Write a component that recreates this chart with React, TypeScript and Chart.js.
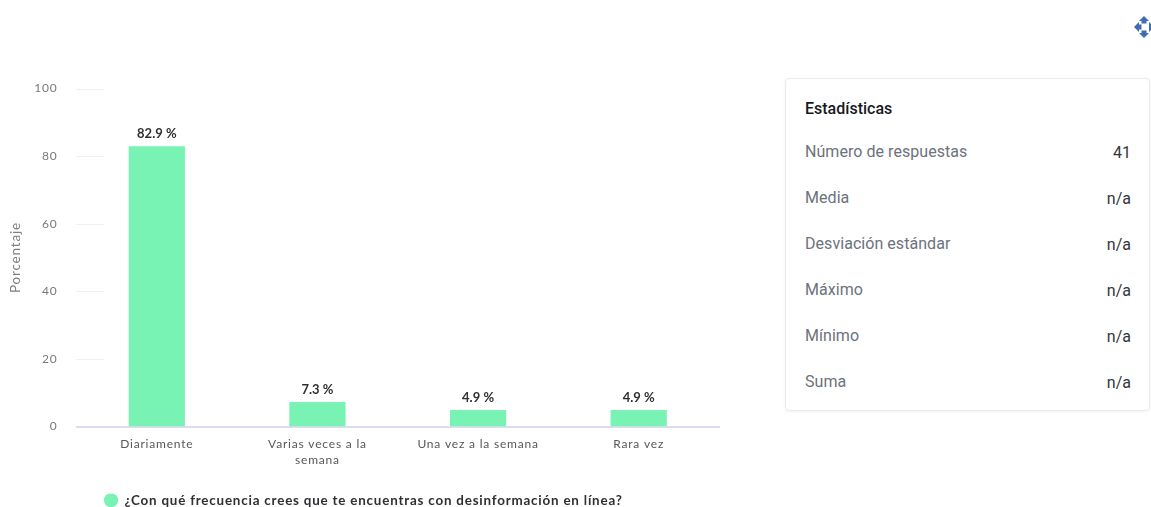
import React, { useEffect, useRef } from "react";
import { Chart, registerables, Plugin } from "chart.js";

Chart.register(...registerables);

const categories: (string | string[])[] = ["Diariamente", ["Varias veces a la", "semana"], "Una vez a la semana", "Rara vez"];
const percentages = [82.9, 7.3, 4.9, 4.9];
const seriesName = "¿Con qué frecuencia crees que te encuentras con desinformación en línea?";
const yTicks = [0, 20, 40, 60, 80, 100];
const statNames = ["Número de respuestas", "Media", "Desviación estándar", "Máximo", "Mínimo", "Suma"];
const statValues = ["41", "n/a", "n/a", "n/a", "n/a", "n/a"];

const BAR = "#78f3b3";
const CHART_FONT = "Lato, sans-serif";

// Axis and legend text on the canvas is slightly tracked out.
const textTracking: Plugin<"bar"> = {
  id: "textTracking",
  beforeUpdate(chart) {
    (chart.ctx as any).letterSpacing = "0.8px";
  },
  beforeDraw(chart) {
    (chart.ctx as any).letterSpacing = "0.8px";
  },
};

// Short horizontal guides at the start of the plot, one per y tick.
const shortGuides: Plugin<"bar"> = {
  id: "shortGuides",
  beforeDatasetsDraw(chart) {
    const { ctx, chartArea, scales } = chart;
    ctx.save();
    ctx.strokeStyle = "#eef0f2";
    ctx.lineWidth = 1;
    yTicks.filter((v) => v > 0).forEach((v) => {
      const y = Math.round(scales.y.getPixelForValue(v)) + 0.5;
      ctx.beginPath();
      ctx.moveTo(chartArea.left, y);
      ctx.lineTo(chartArea.left + 28, y);
      ctx.stroke();
    });
    ctx.restore();
  },
};

// Value captions above each bar.
const barCaptions: Plugin<"bar"> = {
  id: "barCaptions",
  afterDatasetsDraw(chart) {
    const { ctx } = chart;
    const meta = chart.getDatasetMeta(0);
    ctx.save();
    (ctx as any).letterSpacing = "0px";
    ctx.font = `bold 13px ${CHART_FONT}`;
    ctx.fillStyle = "#2f3033";
    ctx.textAlign = "center";
    ctx.textBaseline = "alphabetic";
    meta.data.forEach((bar, i) => {
      ctx.fillText(`${percentages[i]} %`, bar.x, bar.y - 8);
    });
    ctx.restore();
  },
};

function MoveIcon() {
  return (
    <svg width={20} height={22} viewBox="0 0 20 22" style={{ position: "absolute", left: 1134, top: 16 }}>
      <g fill="#3f6db3">
        <path d="M0 11 L5 6 V16 Z" />
        <rect x={5} y={8.5} width={2.5} height={5} />
        <path d="M10 0 L15 5 H5 Z" />
        <rect x={7.5} y={5} width={5} height={2.5} />
        <path d="M10 22 L15 17 H5 Z" />
        <rect x={7.5} y={14.5} width={5} height={2.5} />
        <path d="M20 11 L15 6 V16 Z" />
      </g>
    </svg>
  );
}

export default function App() {
  const canvasRef = useRef<HTMLCanvasElement>(null);

  useEffect(() => {
    document.body.style.margin = "0";
    const chart = new Chart(canvasRef.current!, {
      type: "bar",
      data: {
        labels: categories,
        datasets: [
          {
            label: seriesName,
            data: percentages,
            backgroundColor: BAR,
            borderColor: BAR,
            categoryPercentage: 1,
            barPercentage: 0.35,
          },
        ],
      },
      options: {
        animation: false,
        responsive: false,
        layout: { padding: { top: 88.5, right: 1, bottom: -10, left: 8 } },
        plugins: {
          tooltip: { enabled: false },
          title: { display: false },
          legend: {
            display: true,
            position: "bottom",
            align: "center",
            labels: {
              usePointStyle: true,
              pointStyle: "circle",
              boxWidth: 14,
              boxHeight: 10,
              padding: 0,
              color: "#2f3033",
              font: { family: CHART_FONT, size: 13.4, weight: "bold" },
            },
          },
        },
        scales: {
          x: {
            grid: { display: false },
            border: { color: "#dcdcf0", width: 2 },
            afterFit: (scale) => {
              scale.height = 67;
            },
            ticks: {
              color: "#55575a",
              padding: 2,
              maxRotation: 0,
              autoSkip: false,
              font: { family: CHART_FONT, size: 12, lineHeight: 1.3 },
            },
          },
          y: {
            min: 0,
            max: 100,
            grid: { display: false },
            border: { display: false },
            afterFit: (scale) => {
              scale.width = 68.5;
            },
            title: {
              display: true,
              text: "Porcentaje",
              color: "#7d8084",
              padding: { top: 0, bottom: 0 },
              font: { family: CHART_FONT, size: 13.5 },
            },
            ticks: {
              stepSize: 20,
              color: "#77797c",
              padding: 11,
              font: { family: CHART_FONT, size: 12 },
            },
          },
        },
      },
      plugins: [textTracking, shortGuides, barCaptions],
    });
    return () => chart.destroy();
  }, []);

  return (
    <div style={{ position: "relative", width: 1151, height: 507, overflow: "hidden", background: "#fff" }}>
      <canvas ref={canvasRef} width={720} height={507} style={{ position: "absolute", left: 0, top: 0 }} />
      <MoveIcon />
      <div
        style={{
          position: "absolute",
          left: 785,
          top: 78,
          width: 365,
          height: 333,
          boxSizing: "border-box",
          border: "1px solid #e9eaec",
          borderRadius: 4,
          boxShadow: "0 1px 3px rgba(0,0,0,0.06)",
          fontFamily: "Roboto, sans-serif",
        }}
      >
        <div style={{ position: "absolute", left: 19, top: 20, fontSize: 16, fontWeight: 500, lineHeight: "20px", color: "#16191f" }}>
          Estadísticas
        </div>
        {statNames.map((name, i) => (
          <div key={name} style={{ position: "absolute", left: 19, right: 18, top: 63 + i * 46, height: 20, fontSize: 16, lineHeight: "20px" }}>
            <span style={{ color: "#6c727c", letterSpacing: 0.05 }}>{name}</span>
            <span style={{ position: "absolute", right: 0, top: 1, color: "#33363b" }}>{statValues[i]}</span>
          </div>
        ))}
      </div>
    </div>
  );
}
